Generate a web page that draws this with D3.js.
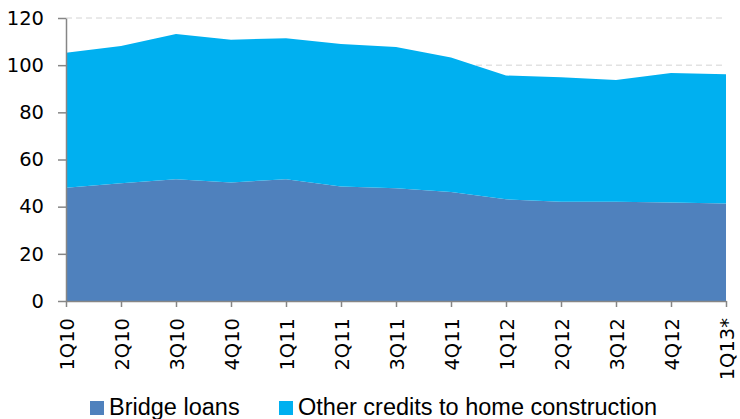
<!DOCTYPE html>
<html>
<head>
<meta charset="utf-8">
<script src="https://cdn.jsdelivr.net/npm/d3@7"></script>
<style>
  html, body { margin: 0; padding: 0; background: #fff; }
  svg { display: block; }
  .tick text { font-family: "DejaVu Sans", sans-serif; fill: #000; }
  .legend text { font-family: "Liberation Sans", Arial, sans-serif; fill: #000; }
</style>
</head>
<body>
<svg id="chart" width="740" height="419"></svg>
<script>
const quarters = ["1Q10", "2Q10", "3Q10", "4Q10", "1Q11", "2Q11", "3Q11", "4Q11", "1Q12", "2Q12", "3Q12", "4Q12", "1Q13*"];
const bridgeLoans = [48.0, 49.9, 51.6, 50.3, 51.6, 48.6, 47.8, 46.2, 43.1, 42.1, 42.1, 41.8, 41.3];
const otherCredits = [57.3, 58.2, 61.6, 60.5, 59.8, 60.4, 59.9, 57.1, 52.5, 52.8, 51.6, 54.9, 54.8];
const seriesNames = ["Bridge loans", "Other credits to home construction"];
const seriesColors = ["#4f81bd", "#00b0f0"];
const yTicks = [0, 20, 40, 60, 80, 100, 120];

const svg = d3.select('#chart');
const plotLeft = 66, plotRight = 726, plotTop = 18, plotBottom = 301;

const x = d3.scalePoint().domain(quarters).range([plotLeft, plotRight]);
const y = d3.scaleLinear().domain([0, 120]).range([plotBottom, plotTop]);

// rows for the stack
const rows = quarters.map((q, i) => ({ q, bridge: bridgeLoans[i], other: otherCredits[i] }));
const stacked = d3.stack().keys(["bridge", "other"])(rows);

// dashed gridlines
svg.append('g')
  .selectAll('line')
  .data(yTicks.filter(d => d > 0))
  .join('line')
  .attr('x1', plotLeft).attr('x2', plotRight)
  .attr('y1', d => y(d)).attr('y2', d => y(d))
  .attr('stroke', '#d4d4d4')
  .attr('stroke-width', 1)
  .attr('stroke-dasharray', '6,4');

const area = d3.area()
  .x(d => x(d.data.q))
  .y0(d => y(d[0]))
  .y1(d => y(d[1]));

svg.append('g')
  .selectAll('path')
  .data(stacked)
  .join('path')
  .attr('d', area)
  .attr('fill', (d, i) => seriesColors[i]);

// y axis
const yAxis = svg.append('g')
  .attr('transform', `translate(${plotLeft},0)`)
  .call(d3.axisLeft(y).tickValues(yTicks).tickSize(8).tickSizeOuter(0).tickPadding(14));
yAxis.selectAll('text').style('font-size', '19.5px');

// x axis
const xAxis = svg.append('g')
  .attr('transform', `translate(0,${plotBottom})`)
  .call(d3.axisBottom(x).tickSize(6).tickSizeOuter(0));
xAxis.selectAll('text')
  .style('font-size', '19.5px')
  .attr('text-anchor', 'end')
  .attr('transform', 'rotate(-90)')
  .attr('x', -17)
  .attr('y', 0)
  .attr('dy', '0.36em');

svg.selectAll('.domain, .tick line').attr('stroke', '#868686').attr('stroke-width', 1.5);

// legend
const legendX = [90, 279];
const legend = svg.append('g').attr('class', 'legend');
seriesNames.forEach((name, i) => {
  legend.append('rect')
    .attr('x', legendX[i]).attr('y', 401)
    .attr('width', 14).attr('height', 14)
    .attr('fill', seriesColors[i]);
  legend.append('text')
    .attr('x', legendX[i] + 19).attr('y', 415)
    .style('font-size', '23.5px')
    .text(name);
});
</script>
</body>
</html>
